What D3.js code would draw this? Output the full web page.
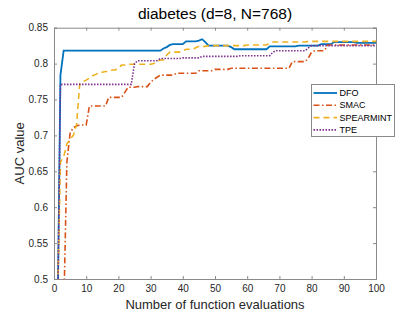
<!DOCTYPE html>
<html><head><meta charset="utf-8">
<script src="https://cdn.jsdelivr.net/npm/d3@7"></script>
<style>body{margin:0;background:#fff}svg{display:block}</style>
</head><body>
<script>
const title = "diabetes (d=8, N=768)";
const xLabel = "Number of function evaluations";
const yLabel = "AUC value";
const xTicks = [0,10,20,30,40,50,60,70,80,90,100];
const yTicks = [0.5,0.55,0.6,0.65,0.7,0.75,0.8,0.85];
const yTickLabels = ["0.5","0.55","0.6","0.65","0.7","0.75","0.8","0.85"];
const seriesNames = ["DFO","SMAC","SPEARMINT","TPE"];

function expand(spec){ // spec: [[fromX, toX, value], ...]
  const out=[]; spec.forEach(([a,b,v])=>{for(let i=a;i<=b;i++) out.push([i,v]);}); return out;
}
const dfo = expand([[1,1,0.40],[2,2,0.784],[3,33,0.818],[34,34,0.821],[35,35,0.823],[36,36,0.826],[37,40,0.827],
  [41,44,0.831],[45,45,0.832],[46,46,0.834],[47,47,0.830],[48,54,0.825],[55,55,0.823],[56,66,0.820],[67,75,0.824],
  [76,82,0.825],[83,86,0.827],[87,93,0.830],[94,100,0.829]]);
const smac = expand([[1,2,0.30],[3,3,0.45],[4,4,0.663],[5,5,0.703],[6,6,0.711],[7,7,0.713],[8,10,0.7145],[11,16,0.741],
  [17,21,0.753],[22,22,0.760],[23,25,0.767],[26,29,0.768],[30,30,0.774],[31,31,0.778],[32,32,0.781],[33,37,0.784],
  [38,44,0.7865],[45,49,0.790],[50,54,0.792],[55,73,0.7935],[74,78,0.8027],[79,79,0.808],[80,80,0.816],[81,84,0.818],
  [85,100,0.826]]);
const spearmint = expand([[1,1,0.45],[2,2,0.663],[3,3,0.670],[4,4,0.688],[5,5,0.695],[6,6,0.700],[7,7,0.715],[8,8,0.772],
  [9,9,0.775],[10,10,0.777],[11,11,0.780],[12,12,0.783],[13,13,0.785],[14,14,0.787],[15,15,0.788],[16,17,0.789],
  [18,19,0.791],[20,20,0.794],[21,22,0.798],[23,30,0.799],[31,31,0.800],[32,32,0.803],[33,34,0.805],[35,35,0.812],
  [36,39,0.816],[40,40,0.818],[41,43,0.820],[44,44,0.822],[45,47,0.824],[48,59,0.825],[60,66,0.826],[67,67,0.829],
  [68,78,0.830],[79,100,0.831]]);
const tpe = expand([[1,1,0.40],[2,24,0.771],[25,25,0.800],[26,32,0.804],[33,39,0.807],[40,45,0.808],[46,57,0.810],
  [58,67,0.811],[68,68,0.816],[69,78,0.818],[79,79,0.822],[80,100,0.825]]);

const W=415,H=316;
const L=54,R=376,T=27.7,B=279;
const x=d3.scaleLinear().domain([0,100]).range([L,R]);
const y=d3.scaleLinear().domain([0.5,0.85]).range([B,T]);
const font="'Liberation Sans', Arial, Helvetica, sans-serif";
const svg=d3.select("body").append("svg").attr("width",W).attr("height",H).style("font-family",font);

svg.append("defs").append("clipPath").attr("id","clip").append("rect")
  .attr("x",L).attr("y",T).attr("width",R-L).attr("height",B-T);

const axisColor="#262626", boxColor="#8a8a8a";
const gx=svg.append("g").attr("transform",`translate(0,${B})`)
  .call(d3.axisBottom(x).tickValues(xTicks).tickSize(-3).tickPadding(4).tickFormat(d3.format("d")));
const gxTop=svg.append("g").attr("transform",`translate(0,${T})`)
  .call(d3.axisTop(x).tickValues(xTicks).tickSize(-3).tickFormat(""));
const gy=svg.append("g").attr("transform",`translate(${L},0)`)
  .call(d3.axisLeft(y).tickValues(yTicks).tickSize(-3).tickPadding(6).tickFormat((d,i)=>yTickLabels[i]));
const gyR=svg.append("g").attr("transform",`translate(${R},0)`)
  .call(d3.axisRight(y).tickValues(yTicks).tickSize(-3).tickFormat(""));
[gx,gxTop,gy,gyR].forEach(g=>{
  g.select(".domain").attr("stroke",boxColor);
  g.selectAll(".tick line").attr("stroke",boxColor);
  g.selectAll(".tick text").attr("fill",axisColor).style("font-size","10px").style("font-family",font);
});
gx.selectAll(".tick text").attr("y",6).attr("dy","0.71em");

const line=d3.line().x(d=>x(d[0])).y(d=>y(d[1]));
const specs=[
  {data:dfo,color:"#0072BD",dash:null,w:1.8},
  {data:smac,color:"#D95319",dash:"6,2.5,1.5,2.5",w:1.6},
  {data:spearmint,color:"#EDB120",dash:"6,4",w:1.6},
  {data:tpe,color:"#7E2F8E",dash:"1.5,1.5",w:1.6}
];
const pg=svg.append("g").attr("clip-path","url(#clip)");
specs.forEach(s=>{
  pg.append("path").datum(s.data).attr("d",line).attr("fill","none")
    .attr("stroke",s.color).attr("stroke-width",s.w).attr("stroke-dasharray",s.dash);
});

svg.append("text").attr("x",(L+R)/2).attr("y",19).attr("text-anchor","middle")
  .style("font-size","15.5px").attr("fill","#000").text(title);
svg.append("text").attr("x",(L+R)/2).attr("y",309).attr("text-anchor","middle")
  .style("font-size","13px").attr("fill","#262626").text(xLabel);
svg.append("text").attr("transform",`translate(24,${(T+B)/2}) rotate(-90)`).attr("text-anchor","middle")
  .style("font-size","13px").attr("fill","#262626").text(yLabel);

const lg=svg.append("g");
lg.append("rect").attr("x",311.5).attr("y",84.5).attr("width",83).attr("height",52)
  .attr("fill","#fff").attr("stroke",boxColor);
specs.forEach((s,i)=>{
  const yy=93+i*12.3;
  lg.append("line").attr("x1",313.5).attr("x2",337).attr("y1",yy).attr("y2",yy)
    .attr("stroke",s.color).attr("stroke-width",s.w).attr("stroke-dasharray",s.dash);
  lg.append("text").attr("x",339.5).attr("y",yy).attr("dy","0.35em")
    .style("font-size","9px").attr("fill","#000").text(seriesNames[i]);
});
</script>
</body></html>
